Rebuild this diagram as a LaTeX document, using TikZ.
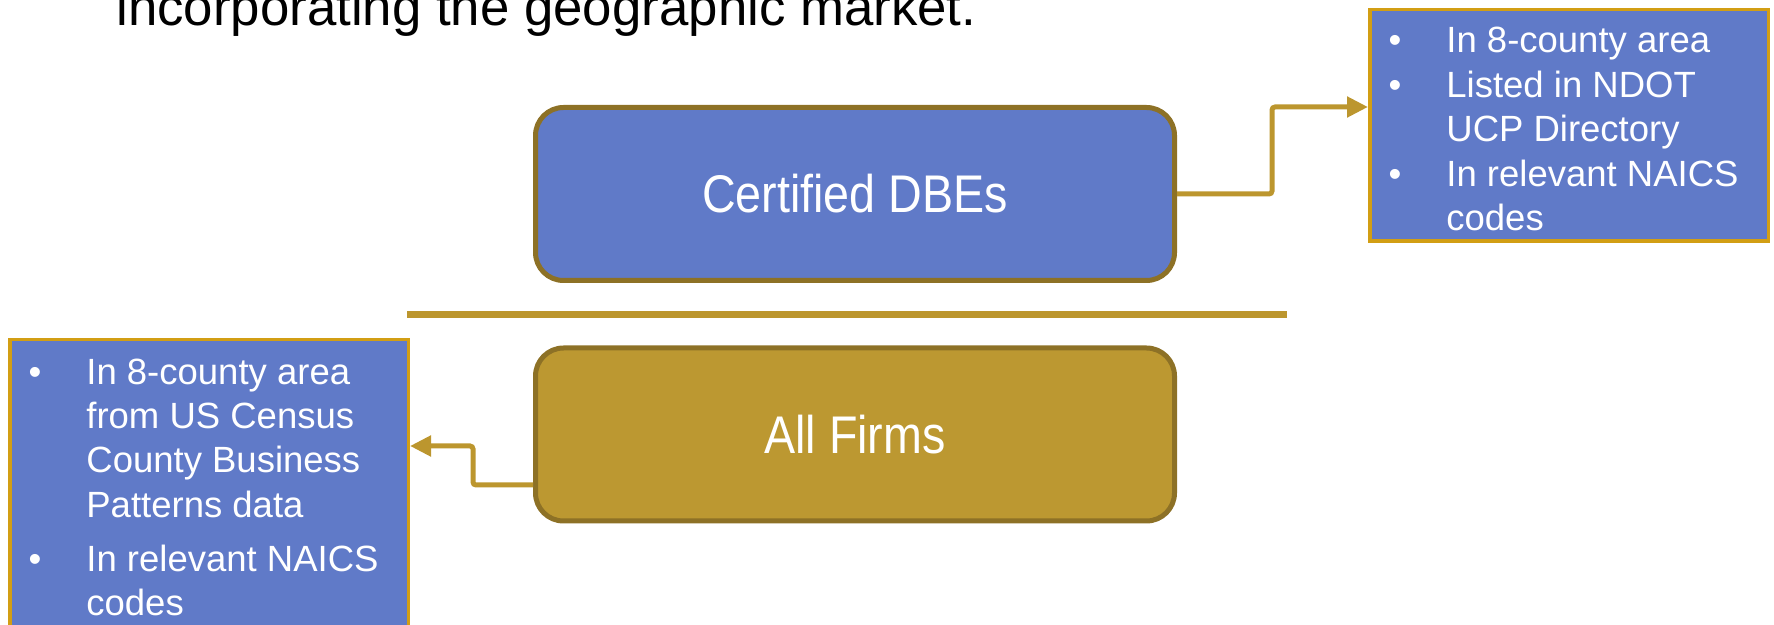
\documentclass[tikz,border=0pt]{standalone}
\usepackage{fontspec}
\setmainfont{Liberation Sans}
\usepackage{graphicx}
\usetikzlibrary{arrows.meta}
\definecolor{dbeblue}{RGB}{96,122,200}
\definecolor{firmgold}{RGB}{188,152,49}
\definecolor{boxedge}{RGB}{141,113,38}
\definecolor{listedge}{RGB}{210,158,20}
\definecolor{linkgold}{RGB}{188,150,46}
\tikzset{
  mainbox/.style={draw=boxedge, line width=2.5pt, rounded corners=14pt, minimum width=319.5pt, minimum height=86.5pt, inner sep=0pt, text=white, font=\fontsize{26.5}{30}\selectfont},
  listbox/.style={draw=listedge, line width=1.75pt, fill=dbeblue, inner sep=0pt},
  listline/.style={anchor=base west, inner sep=0pt, text=white, font=\fontsize{18.25}{22}\selectfont},
  bulletmark/.style={anchor=base, inner sep=0pt, text=white, font=\fontsize{18.25}{22}\selectfont},
  conn/.style={draw=linkgold, line width=2.5pt, rounded corners=1.5pt, -{Triangle[length=10.5pt,width=10pt]}},
  sepline/.style={draw=linkgold, line width=3.5pt},
  titletext/.style={anchor=base west, inner sep=0pt, text=black, font=\fontsize{26.4}{30}\selectfont}
}
\begin{document}
\begin{tikzpicture}[x=0.5pt,y=-0.5pt]
\useasboundingbox (0,0) rectangle (1774,625);
\clip (0,0) rectangle (1774,625);

% title
\node[titletext] (title) at (116,26) {incorporating the geographic market.};

% main boxes
\node[mainbox, fill=dbeblue] (cert) at (855,194) {\scalebox{0.88}[1]{Certified DBEs}};
\node[mainbox, fill=firmgold] (allf) at (855,434.5) {\scalebox{0.88}[1]{All Firms}};

% separator
\coordinate (sepL) at (407,315);
\coordinate (sepR) at (1287,315);
\draw[sepline] (sepL) -- (sepR);

% right list box
\node[listbox, minimum width=199.25pt, minimum height=115.75pt] (rbox) at (1569,125.5) {};
\node[bulletmark] (rb1) at (1395,53) {•};
\node[listline] (r1) at (1446,53) {In 8-county area};
\node[bulletmark] (rb2) at (1395,98) {•};
\node[listline] (r2) at (1446,98) {Listed in NDOT};
\node[listline] (r3) at (1446,142) {UCP Directory};
\node[bulletmark] (rb3) at (1395,187) {•};
\node[listline] (r4) at (1446,187) {In relevant NAICS};
\node[listline] (r5) at (1446,231) {codes};

% left list box
\node[listbox, minimum width=199.25pt, minimum height=159.25pt] (lbox) at (209,499) {};
\node[bulletmark] (lb1) at (35,385) {•};
\node[listline] (l1) at (86,385) {In 8-county area};
\node[listline] (l2) at (86,429) {from US Census};
\node[listline] (l3) at (86,473) {County Business};
\node[listline] (l4) at (86,518) {Patterns data};
\node[bulletmark] (lb2) at (35,572) {•};
\node[listline] (l5) at (86,572) {In relevant NAICS};
\node[listline] (l6) at (86,616) {codes};

% connectors
\coordinate (k1) at (1272,107);
\draw[conn] (cert.east) -| (k1) -- (rbox.west |- k1);
\coordinate (k2) at (473,446);
\draw[conn] ([yshift=-25.25pt]allf.west) -| (k2) -- (lbox.east |- k2);
\end{tikzpicture}
\end{document}
